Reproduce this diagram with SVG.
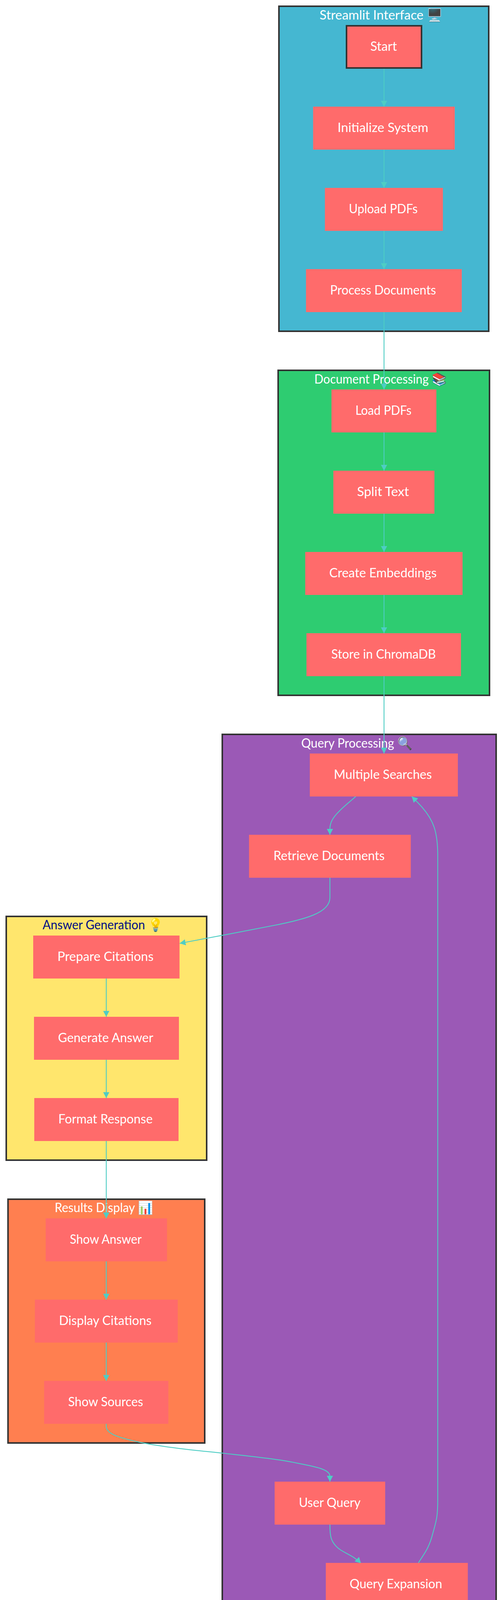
<svg xmlns="http://www.w3.org/2000/svg" width="1285" height="4176" viewBox="0 0 1285 4176">
<style>
text{font-family:"Lato","Noto Sans",sans-serif;font-size:32.5px;fill:#fff;text-anchor:start}
.c{stroke:#333;stroke-width:4}
.n{fill:#FF6B6B}
.e{fill:none;stroke:#4ECDC4;stroke-width:2.2;marker-end:url(#a)}
</style>
<defs><marker id="a" markerUnits="userSpaceOnUse" markerWidth="15" markerHeight="16" refX="15" refY="8" orient="auto"><path d="M0,0L15,8L0,16z" fill="#4ECDC4"/></marker></defs>
<rect width="1285" height="4176" fill="#fff"/>
<g id="cluster-streamlit"><rect class="c" x="714" y="16" width="537" height="832" fill="#45B7D1"/><text x="818" y="50" textLength="315" lengthAdjust="spacingAndGlyphs">Streamlit Interface 🖥️</text></g>
<g id="cluster-document"><rect class="c" x="712" y="948" width="541" height="832" fill="#2ECC71"/><text x="804.500" y="982" textLength="338.500" lengthAdjust="spacingAndGlyphs">Document Processing 📚</text></g>
<g id="cluster-query"><rect class="c" x="569" y="1880" width="701" height="2280" fill="#9B59B6"/><text x="771" y="1914" textLength="284" lengthAdjust="spacingAndGlyphs">Query Processing 🔍</text></g>
<g id="cluster-answer"><rect class="c" x="16" y="2346" width="513" height="624" fill="#FFE66D"/><text x="109" y="2379" textLength="308" lengthAdjust="spacingAndGlyphs" style="fill:#000f85">Answer Generation 💡</text></g>
<g id="cluster-results"><rect class="c" x="20.500" y="3070" width="503.500" height="624" fill="#FF7F50"/><text x="140" y="3103" textLength="251" lengthAdjust="spacingAndGlyphs">Results Display 📊</text></g>
<g id="connectors">
<path class="e" d="M983,176V273"/>
<path class="e" d="M983,383V481"/>
<path class="e" d="M983,591V689"/>
<path class="e" d="M983,799V997"/>
<path class="e" d="M983,1107V1205"/>
<path class="e" d="M983,1315V1413"/>
<path class="e" d="M983,1523V1621"/>
<path class="e" d="M983,1731V1929"/>
<path class="e" d="M910.500,2039C895,2053 880,2064 868,2077C853,2092 844.500,2105 844.500,2122V2137"/>
<path class="e" d="M844.500,2247V2298C844.500,2338 778,2353 706.700,2368C650,2379 520,2404 460,2415"/>
<path class="e" d="M272,2505V2603"/>
<path class="e" d="M272,2713V2811"/>
<path class="e" d="M272,2921V3119"/>
<path class="e" d="M272,3229V3327"/>
<path class="e" d="M272,3437V3535"/>
<path class="e" d="M272,3645V3652C272,3672 310,3682 359.500,3692.700C420,3705 500,3713 569,3720C640,3728 710,3735 757.500,3745C810,3755 844.500,3762 844.500,3779V3793"/>
<path class="e" d="M844.500,3903C844.500,3935 848,3945 860,3958C875,3975 900,3978 924,4002"/>
<path class="e" d="M1071,4001C1085,3978 1098,3965 1108,3925C1118,3890 1120.500,3880 1120.500,3840V2190C1120.500,2130 1110,2100 1080,2066C1072,2057 1062,2047 1054,2039"/>
</g>
<g id="node-start"><rect class="n" x="887" y="66" width="192" height="108" stroke="#333" stroke-width="4"/><text x="948" y="130" textLength="68" lengthAdjust="spacingAndGlyphs">Start</text></g>
<g id="node-init"><rect class="n" x="801.500" y="273" width="362.500" height="110"/><text x="864" y="338" textLength="232.500" lengthAdjust="spacingAndGlyphs">Initialize System</text></g>
<g id="node-upload"><rect class="n" x="831.700" y="481" width="302" height="110"/><text x="893" y="546" textLength="176" lengthAdjust="spacingAndGlyphs">Upload PDFs</text></g>
<g id="node-process"><rect class="n" x="783.300" y="689" width="398.700" height="110"/><text x="845" y="754" textLength="271" lengthAdjust="spacingAndGlyphs">Process Documents</text></g>
<g id="node-load"><rect class="n" x="848.500" y="997" width="268.500" height="110"/><text x="909.700" y="1062" textLength="143.700" lengthAdjust="spacingAndGlyphs">Load PDFs</text></g>
<g id="node-split"><rect class="n" x="853.300" y="1205" width="258.700" height="110"/><text x="914" y="1270" textLength="133" lengthAdjust="spacingAndGlyphs">Split Text</text></g>
<g id="node-embed"><rect class="n" x="781.300" y="1413" width="402.700" height="110"/><text x="842.700" y="1478" textLength="275" lengthAdjust="spacingAndGlyphs">Create Embeddings</text></g>
<g id="node-store"><rect class="n" x="784.500" y="1621" width="395.500" height="110"/><text x="848" y="1686" textLength="267.600" lengthAdjust="spacingAndGlyphs">Store in ChromaDB</text></g>
<g id="node-multi"><rect class="n" x="793" y="1929" width="379" height="110"/><text x="854.500" y="1994" textLength="251" lengthAdjust="spacingAndGlyphs">Multiple Searches</text></g>
<g id="node-retrieve"><rect class="n" x="637.500" y="2137" width="414" height="110"/><text x="700" y="2202" textLength="284.600" lengthAdjust="spacingAndGlyphs">Retrieve Documents</text></g>
<g id="node-prepare"><rect class="n" x="85" y="2395" width="374.500" height="110"/><text x="147" y="2460" textLength="246" lengthAdjust="spacingAndGlyphs">Prepare Citations</text></g>
<g id="node-generate"><rect class="n" x="87" y="2603" width="371" height="110"/><text x="148.500" y="2668" textLength="243.800" lengthAdjust="spacingAndGlyphs">Generate Answer</text></g>
<g id="node-format"><rect class="n" x="87.700" y="2811" width="369.300" height="110"/><text x="149.300" y="2876" textLength="241.400" lengthAdjust="spacingAndGlyphs">Format Response</text></g>
<g id="node-answer"><rect class="n" x="117" y="3119" width="310.500" height="110"/><text x="178.700" y="3184" textLength="184" lengthAdjust="spacingAndGlyphs">Show Answer</text></g>
<g id="node-citations"><rect class="n" x="89.300" y="3327" width="365.700" height="110"/><text x="151" y="3392" textLength="237" lengthAdjust="spacingAndGlyphs">Display Citations</text></g>
<g id="node-sources"><rect class="n" x="113" y="3535" width="318" height="110"/><text x="174.600" y="3600" textLength="191.800" lengthAdjust="spacingAndGlyphs">Show Sources</text></g>
<g id="node-user"><rect class="n" x="703" y="3793" width="283" height="110"/><text x="765" y="3858" textLength="158" lengthAdjust="spacingAndGlyphs">User Query</text></g>
<g id="node-expand"><rect class="n" x="834" y="4001" width="363.500" height="110"/><text x="895" y="4066" textLength="237" lengthAdjust="spacingAndGlyphs">Query Expansion</text></g>
</svg>
